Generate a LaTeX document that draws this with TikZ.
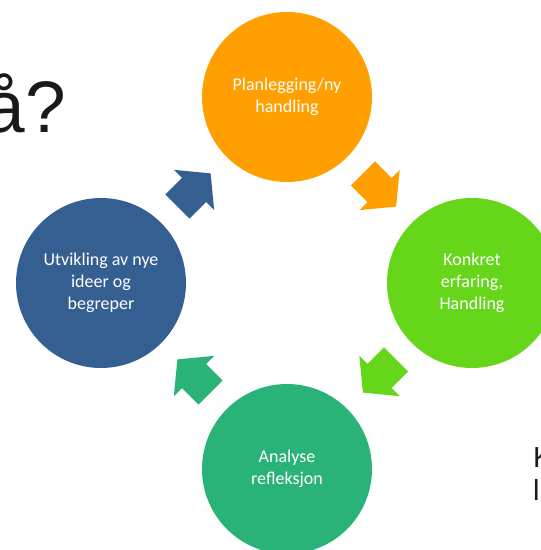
\documentclass[tikz,border=0pt]{standalone}
\usepackage{fontspec}
\setmainfont{Carlito}
\newfontfamily\headfont{Liberation Sans}
\usetikzlibrary{calc}

\definecolor{cycorange}{RGB}{255,160,0}
\definecolor{cycgreen}{RGB}{102,214,26}
\definecolor{cycteal}{RGB}{42,179,121}
\definecolor{cycblue}{RGB}{54,95,145}
\definecolor{headtext}{RGB}{26,26,26}

\tikzset{
  stage/.style={circle, minimum size=170pt, inner sep=0pt, fill=#1,
    text=white, align=center, font=\fontsize{18}{22}\selectfont},
  % block arrow pointing along +x, centred on its placement point
  blockarrow/.pic={
    \fill[#1] (-23.5,17) -- (0,17) -- (0,28.5) -- (23.5,0)
      -- (0,-28.5) -- (0,-17) -- (-23.5,-17) -- cycle;
  },
  headline/.style={text=headtext, inner sep=0pt,
    font=\headfont\fontsize{73}{80}\selectfont},
  sideline/.style={text=headtext, inner sep=0pt,
    font=\headfont\fontsize{29}{33}\selectfont},
}

\begin{document}
\begin{tikzpicture}[x=1pt,y=1pt]
\useasboundingbox (0,0) rectangle (541,550);
\clip (0,0) rectangle (541,550);

% cycle stages
\node[stage=cycorange] (plan) at (287,453) {Planlegging/ny\\handling};
\node[stage=cycgreen]  (konk) at (472,267) {Konkret\\erfaring,\\Handling};
\node[stage=cycteal]   (anal) at (287,81)  {Analyse\\refleksjon};
\node[stage=cycblue]   (utv)  at (101,267) {Utvikling av nye\\ideer og\\begreper};

% arrows between the stages, clockwise
\coordinate (m1) at ($(plan)!0.5!(konk)$);
\coordinate (m2) at ($(konk)!0.5!(anal)$);
\coordinate (m3) at ($(anal)!0.5!(utv)$);
\coordinate (m4) at ($(utv)!0.5!(plan)$);
\pic[rotate=-45]  (arrA) at (m1) {blockarrow=cycorange};
\pic[rotate=-135] (arrB) at (m2) {blockarrow=cycgreen};
\pic[rotate=135]  (arrC) at (m3) {blockarrow=cycteal};
\pic[rotate=45]   (arrD) at (m4) {blockarrow=cycblue};

% surrounding slide text
\node[headline, anchor=base east] (title) at (66,417) {å?};
\node[sideline, anchor=base west] (sideA) at (533,82) {K};
\node[sideline, anchor=base west] (sideB) at (533,49) {l};
\end{tikzpicture}
\end{document}
